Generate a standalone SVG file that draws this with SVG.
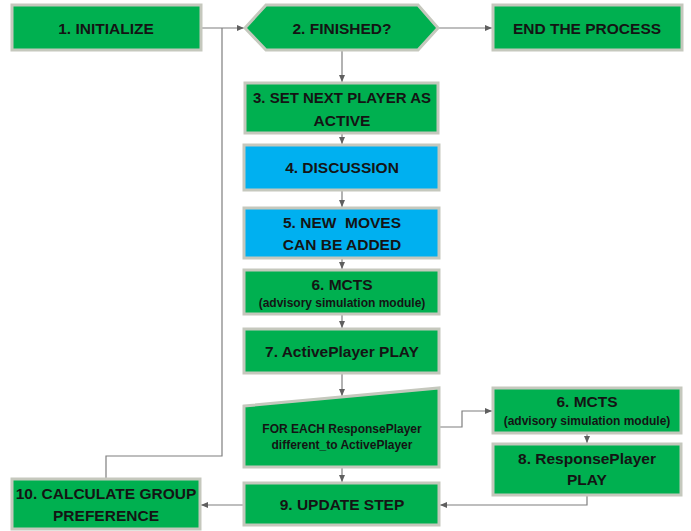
<svg xmlns="http://www.w3.org/2000/svg" width="691" height="531" viewBox="0 0 691 531">
<style>
.g{fill:#00b050;stroke:#c5c8bd;stroke-width:3}
.b{fill:#00b0f0;stroke:#c5c8bd;stroke-width:3}
.t{font-family:"Liberation Sans",Arial,sans-serif;font-weight:bold;font-size:15.5px;fill:#141414;text-anchor:middle}
.s{font-family:"Liberation Sans",Arial,sans-serif;font-weight:bold;font-size:12px;fill:#141414;text-anchor:middle}
.c{fill:none;stroke:#7f7f7f;stroke-width:1.2}
</style>
<defs>
<marker id="ah" markerUnits="userSpaceOnUse" markerWidth="8" markerHeight="8" viewBox="0 0 8 8" refX="7" refY="4" orient="auto">
<path d="M0,1 L7,4 L0,7 Z" fill="#5f5f5f"/>
</marker>
</defs>
<rect width="691" height="531" fill="#ffffff"/>
<g id="connectors">
<path class="c" d="M201,28 H244" marker-end="url(#ah)"/>
<path class="c" d="M106,479 V456 H222 V28"/>
<path class="c" d="M438,28 H492" marker-end="url(#ah)"/>
<path class="c" d="M342,50 V82" marker-end="url(#ah)"/>
<path class="c" d="M342,133 V144" marker-end="url(#ah)"/>
<path class="c" d="M342,190 V207" marker-end="url(#ah)"/>
<path class="c" d="M342,258 V269" marker-end="url(#ah)"/>
<path class="c" d="M342,314 V328" marker-end="url(#ah)"/>
<path class="c" d="M342,373 V396" marker-end="url(#ah)"/>
<path class="c" d="M439,427 H462 V411 H492" marker-end="url(#ah)"/>
<path class="c" d="M587,433 V443" marker-end="url(#ah)"/>
<path class="c" d="M587,495 V505 H440" marker-end="url(#ah)"/>
<path class="c" d="M342,467 V482" marker-end="url(#ah)"/>
<path class="c" d="M244,505 H201" marker-end="url(#ah)"/>
</g>
<g id="n1"><rect class="g" x="12" y="5" width="189" height="45"/><text class="t" x="106" y="34">1. INITIALIZE</text></g>
<g id="n2"><polygon class="g" points="245,28 266,5 418,5 438,28 418,50 266,50"/><text class="t" x="342" y="34">2. FINISHED?</text></g>
<g id="nEnd"><rect class="g" x="493" y="5" width="189" height="45"/><text class="t" x="587" y="34">END THE PROCESS</text></g>
<g id="n3"><rect class="g" x="245" y="83" width="193" height="50"/><text class="t" x="342" y="103" textLength="178" lengthAdjust="spacingAndGlyphs">3. SET NEXT PLAYER AS</text><text class="t" x="342" y="126">ACTIVE</text></g>
<g id="n4"><rect class="b" x="244" y="145" width="195" height="45"/><text class="t" x="342" y="173">4. DISCUSSION</text></g>
<g id="n5"><rect class="b" x="244" y="208" width="195" height="50"/><text class="t" x="342" y="228" xml:space="preserve">5. NEW  MOVES</text><text class="t" x="342" y="250">CAN BE ADDED</text></g>
<g id="n6"><rect class="g" x="244" y="270" width="195" height="44"/><text class="t" x="342" y="290">6. MCTS</text><text class="s" x="342" y="307">(advisory simulation module)</text></g>
<g id="n7"><rect class="g" x="244" y="329" width="195" height="44"/><text class="t" x="342" y="357">7. ActivePlayer PLAY</text></g>
<g id="nFor"><polygon class="g" points="244,406 439,388 439,467 244,467"/><text class="s" x="342" y="433">FOR EACH ResponsePlayer</text><text class="s" x="342" y="449">different_to ActivePlayer</text></g>
<g id="n9"><rect class="g" x="244" y="483" width="195" height="42"/><text class="t" x="342" y="510">9. UPDATE STEP</text></g>
<g id="n6b"><rect class="g" x="493" y="388" width="188" height="45"/><text class="t" x="587" y="407">6. MCTS</text><text class="s" x="587" y="425">(advisory simulation module)</text></g>
<g id="n8"><rect class="g" x="493" y="444" width="188" height="51"/><text class="t" x="587" y="464">8. ResponsePlayer</text><text class="t" x="587" y="485">PLAY</text></g>
<g id="n10"><rect class="g" x="12" y="479" width="188" height="50"/><text class="t" x="106" y="499">10. CALCULATE GROUP</text><text class="t" x="106" y="521">PREFERENCE</text></g>
</svg>
